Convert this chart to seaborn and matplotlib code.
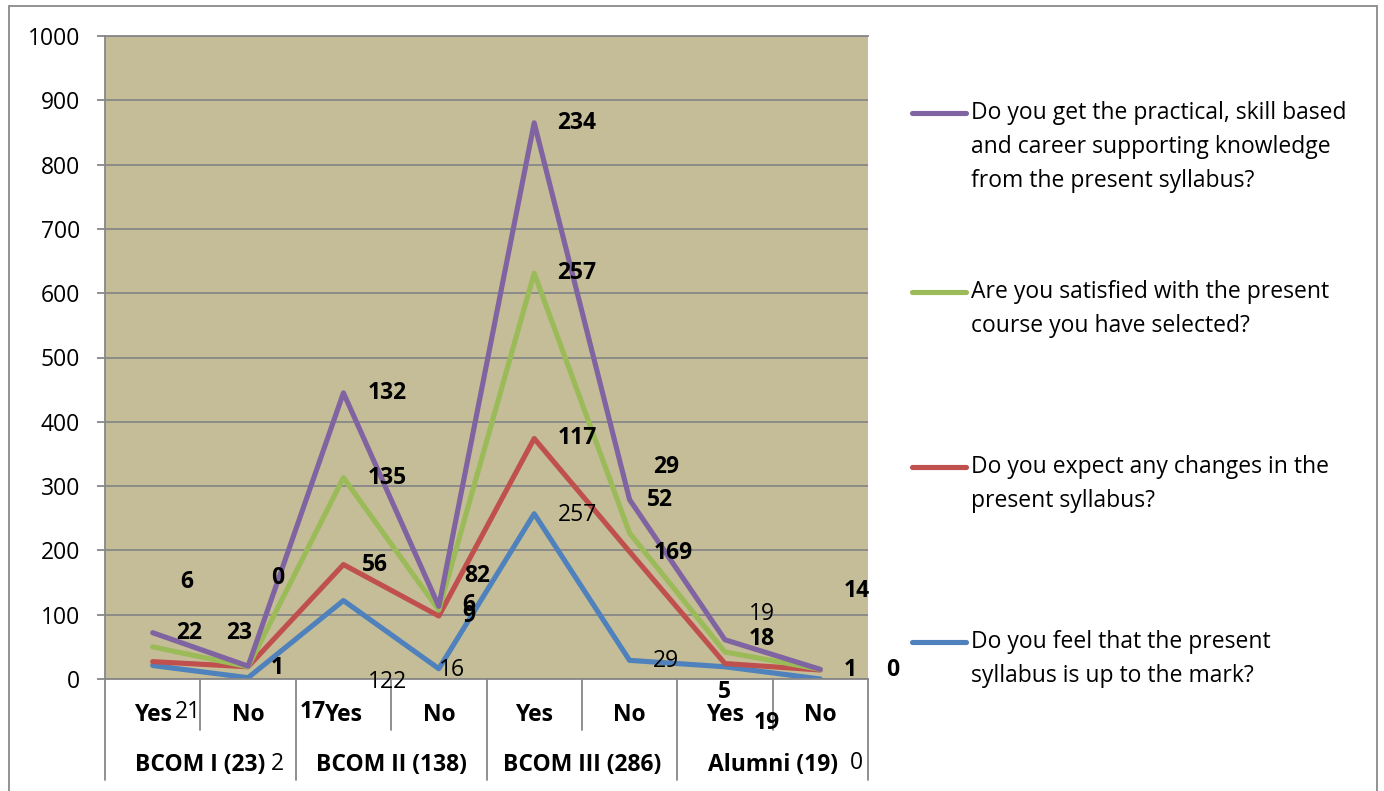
import numpy as np
import pandas as pd
import matplotlib
matplotlib.use("Agg")
import matplotlib.pyplot as plt
import seaborn as sns
from matplotlib.lines import Line2D
from matplotlib.patches import Rectangle
import matplotlib.transforms as mtrans

# ---------------- data ----------------
answers = ["Yes", "No", "Yes", "No", "Yes", "No", "Yes", "No"]
groups = ["BCOM I (23)", "BCOM II (138)", "BCOM III (286)", "Alumni (19)"]

q_mark = "Do you feel that the present syllabus is up to the mark?"
q_change = "Do you expect any changes in the present syllabus?"
q_satisfied = "Are you satisfied with the present course you have selected?"
q_practical = ("Do you get the practical, skill based and career supporting "
               "knowledge from the present syllabus?")

up_to_mark = [21, 2, 122, 16, 257, 29, 19, 0]
expect_changes = [6, 17, 56, 82, 117, 169, 5, 14]
satisfied = [23, 0, 135, 9, 257, 29, 18, 1]
practical = [22, 1, 132, 6, 234, 52, 19, 0]

# stacking order (bottom -> top) and colours
questions = [q_mark, q_change, q_satisfied, q_practical]
series = [up_to_mark, expect_changes, satisfied, practical]
colors = ["#4F81BD", "#C0504D", "#9BBB59", "#8064A2"]

legend_lines = {
    q_practical: ["Do you get the practical, skill based",
                  "and career supporting knowledge",
                  "from the present syllabus?"],
    q_satisfied: ["Are you satisfied with the present",
                  "course you have selected?"],
    q_change: ["Do you expect any changes in the",
               "present syllabus?"],
    q_mark: ["Do you feel that the present",
             "syllabus is up to the mark?"],
}

# data-label placement (x in category units, y in value units), per series
label_x = [
    [0.37, 1.31, 2.46, 3.14, 4.45, 5.38, 6.39, 7.38],   # blue
    [0.36, 1.68, 2.33, 3.40, 4.45, 5.46, 5.99, 7.38],   # red
    [0.905, 1.31, 2.46, 3.31, 4.45, 5.38, 6.39, 7.31],  # green
    [0.38, 1.31, 2.46, 3.31, 4.45, 5.32, 6.44, 7.76],   # purple
]
label_y = [
    [-51, -132, -5, 14, 255, 28, 101, -131],
    [151, -51, 177, 160, 375, 196, -20, 137],
    [71, 157, 313, 98, 631, 330, 62, 14],
    [71, 17, 445, 115, 865, 278, -68, 14],
]
label_bold = [False, True, True, True]

# ---------------- build long table (stacked) ----------------
cum = np.cumsum(np.array(series, dtype=float), axis=0)
rows = []
for qi, q in enumerate(questions):
    for i in range(len(answers)):
        rows.append({"pos": i, "value": cum[qi, i], "question": q})
df = pd.DataFrame(rows)

# ---------------- style ----------------
sns.set_theme(style="white")
plt.rcParams["font.family"] = ["Open Sans", "DejaVu Sans"]
FS = 16.5

W, H = 1384, 791
fig = plt.figure(figsize=(W / 100, H / 100), dpi=100)
fig.patch.set_facecolor("white")

px_l, px_r, px_t, px_b = 105, 868, 36, 679
ax = fig.add_axes([px_l / W, 1 - px_b / H, (px_r - px_l) / W, (px_b - px_t) / H])
ax.set_facecolor("#C4BD97")

sns.lineplot(data=df, x="pos", y="value", hue="question", hue_order=questions,
             palette=colors, linewidth=3.7, legend=False, sort=False, ax=ax)
for ln in ax.lines:
    ln.set_solid_capstyle("round")
    ln.set_solid_joinstyle("round")

grid_c = "#878787"
ax.set_xlim(-0.5, len(answers) - 0.5)
ax.set_ylim(0, 1000)
ax.set_yticks(np.arange(0, 1001, 100))
ax.yaxis.grid(True, color=grid_c, linewidth=1.3)
ax.xaxis.grid(False)
ax.set_axisbelow(True)
ax.tick_params(axis="y", which="major", length=6, width=1.3, color=grid_c,
               direction="out", pad=12, labelsize=FS, labelcolor="black", left=True)
ax.set_xticks(range(len(answers)))
ax.set_xticklabels(answers, fontsize=FS, fontweight="bold")
ax.tick_params(axis="x", length=0, pad=17, labelcolor="black")
ax.set_xlabel("")
ax.set_ylabel("")
for s in ["left", "bottom", "top"]:
    ax.spines[s].set_color(grid_c)
    ax.spines[s].set_linewidth(1.3)
ax.spines["right"].set_visible(False)

# category table separators below the axis
axh = px_b - px_t
full_y = -(780 - px_b) / axh
short_y = -(730 - px_b) / axh
n = len(answers)
for k in range(n + 1):
    yb = full_y if k % 2 == 0 else short_y
    ax.add_line(Line2D([k / n, k / n], [0, yb], transform=ax.transAxes,
                       color=grid_c, linewidth=1.3, clip_on=False))

# group labels
trans = mtrans.blended_transform_factory(ax.transData, ax.transAxes)
group_y = -(765 - px_b) / axh
for gi, g in enumerate(groups):
    ax.text(2 * gi + 0.5, group_y, g, transform=trans, ha="center", va="center",
            fontsize=FS, fontweight="bold", color="black")

# data labels
for si, vals in enumerate(series):
    for i, v in enumerate(vals):
        ax.text(label_x[si][i], label_y[si][i], str(v), ha="center", va="center",
                fontsize=FS,
                fontweight="bold" if label_bold[si] else "normal",
                color="black", clip_on=False, zorder=5)

# legend (Excel-style: handle aligned with first text line)
legend_order = [q_practical, q_satisfied, q_change, q_mark]
legend_y = [113, 292, 467, 642]
for q, yy in zip(legend_order, legend_y):
    col = colors[questions.index(q)]
    fig.add_artist(Line2D([912 / W, 966 / W], [1 - yy / H, 1 - yy / H],
                          color=col, linewidth=3.7, solid_capstyle="round"))
    for li, line in enumerate(legend_lines[q]):
        fig.text(971 / W, 1 - (yy + li * 34) / H, line, ha="left", va="center",
                 fontsize=FS, color="black")

# outer chart border
fig.add_artist(Rectangle((8.5 / W, -0.05), (1376.5 - 8.5) / W, 1.05 - 6.5 / H,
                         transform=fig.transFigure, fill=False,
                         edgecolor="#898989", linewidth=1.3))

fig.savefig("out.png", dpi=100)
